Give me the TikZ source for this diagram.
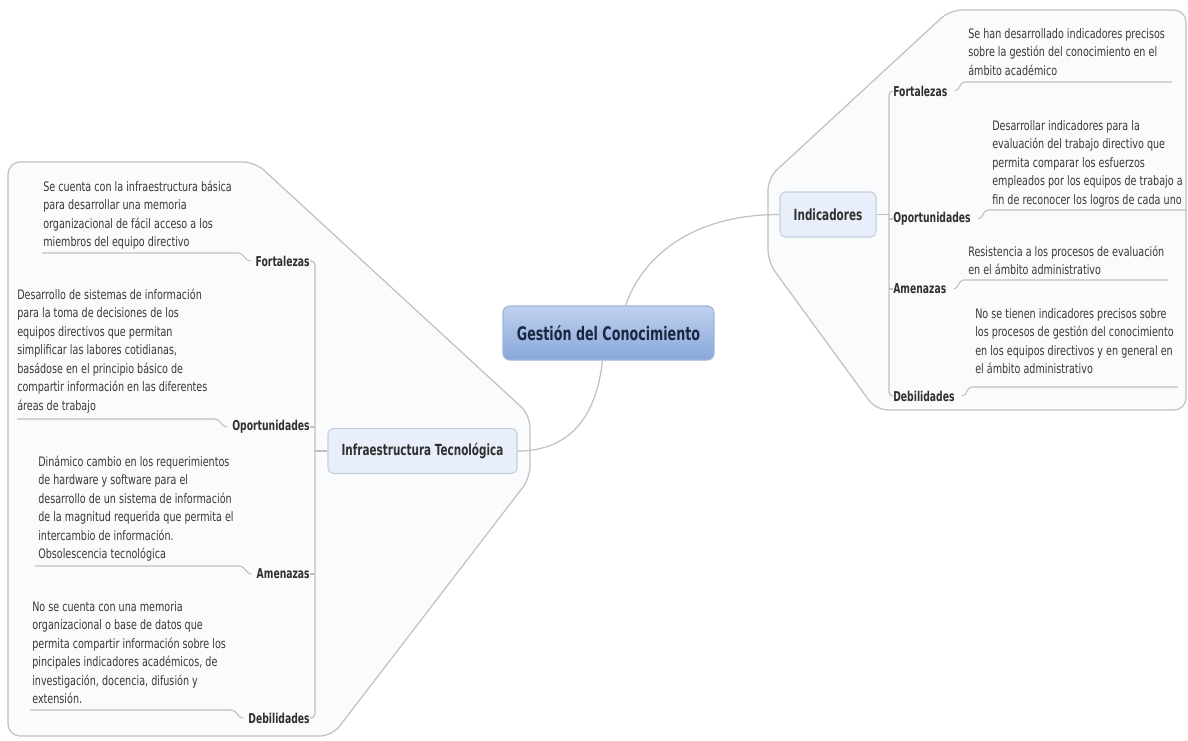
\documentclass[tikz,border=0pt]{standalone}
\usepackage{fontspec}
\setmainfont{DejaVu Sans}[FakeStretch=0.735]
\newfontfamily\boldf{DejaVu Sans}[FakeStretch=0.68]
\usetikzlibrary{calc}
\definecolor{txt}{HTML}{383838}
\definecolor{lbltxt}{HTML}{303030}
\definecolor{grpline}{HTML}{C0C0C0}
\definecolor{grpfill}{HTML}{FAFBFD}
\definecolor{connc}{HTML}{C0C0C0}
\definecolor{boxline}{HTML}{C5CFE1}
\definecolor{boxfill}{HTML}{E9EFFA}
\definecolor{gctop}{HTML}{BFD1EE}
\definecolor{gcbot}{HTML}{88A7DB}
\definecolor{gcline}{HTML}{9FB4DA}
\definecolor{gctxt}{HTML}{1C2740}
\begin{document}
\begin{tikzpicture}[x=0.75pt,y=-0.75pt,
  grp/.style={draw=grpline, fill=grpfill, line width=0.9pt, rounded corners=9pt},
  conn/.style={draw=connc, line width=0.9pt},
  uline/.style={draw=connc, line width=0.8pt},
  body/.style={anchor=north west, inner sep=0pt, align=left, text=txt,
    font=\fontsize{9.8}{13.9}\selectfont},
  lbl/.style={inner sep=0pt, text=lbltxt, font=\boldf\bfseries\fontsize{10.2}{11}\selectfont},
  topicbox/.style={draw=boxline, fill=boxfill, rounded corners=4pt, line width=0.8pt,
    text=lbltxt, font=\boldf\bfseries\fontsize{11.5}{12}\selectfont,
    minimum height=33.75pt, inner sep=2pt},
  centralbox/.style={draw=gcline, top color=gctop, bottom color=gcbot, rounded corners=5pt,
    line width=0.8pt, text=gctxt, font=\boldf\bfseries\fontsize{14}{15}\selectfont,
    minimum width=158.25pt, minimum height=40.5pt}
]
\useasboundingbox (0,0) rectangle (1188,740);
\fill[white] (0,0) rectangle (1188,740);

% group outlines
\path[grp] (8,162) -- (255,162) -- (530,415) -- (530,478) -- (332,736) -- (8,736) -- cycle;
\path[grp] (950,10) -- (1186,10) -- (1186,410) -- (876,410) -- (768,262) -- (768,178) -- cycle;

% main nodes
\node[centralbox] (gc) at (608.5,333) {Gestión del Conocimiento};
\node[topicbox, minimum width=141.75pt] (infra) at (422.5,451) {Infraestructura Tecnológica};
\node[topicbox, minimum width=72pt] (ind) at (828,214.5) {Indicadores};

% main connectors
\draw[conn] ($(gc.south)+(-6,0)$) .. controls (597,410) and (575,451) .. (infra.east);
\draw[conn] ($(gc.north)+(17,0)$) .. controls (642,258) and (690,214.5) .. (ind.west);

% ---------- left branch ----------
\node[lbl, anchor=east] (lF) at (310,261) {Fortalezas};
\node[lbl, anchor=east] (lO) at (310,427) {Oportunidades};
\node[lbl, anchor=east] (lA) at (310,574) {Amenazas};
\node[lbl, anchor=east] (lD) at (310,718) {Debilidades};

\draw[conn, rounded corners=3pt] (lF.east) -- ++(5,0) |- (lD.east);
\draw[conn] (lO.east) -- ++(5,0);
\draw[conn] (lA.east) -- ++(5,0);
\draw[conn] (infra.west) -- ++(-13,0);

\node[body] (tL1) at (43,178) {\strut Se cuenta con la infraestructura básica\\para desarrollar una memoria\\organizacional de fácil acceso a los\\miembros del equipo directivo};
\node[body] (tL2) at (17,286) {\strut Desarrollo de sistemas de información\\para la toma de decisiones de los\\equipos directivos que permitan\\simplificar las labores cotidianas,\\basádose en el principio básico de\\compartir información en las diferentes\\áreas de trabajo};
\node[body] (tL3) at (38,453) {\strut Dinámico cambio en los requerimientos\\de hardware y software para el\\desarrollo de un sistema de información\\de la magnitud requerida que permita el\\intercambio de información.\\Obsolescencia tecnológica};
\node[body] (tL4) at (32,598) {\strut No se cuenta con una memoria\\organizacional o base de datos que\\permita compartir información sobre los\\pincipales indicadores académicos, de\\investigación, docencia, difusión y\\extensión.};

\coordinate (uL1) at (42,253);
\coordinate (uL2) at (17,419);
\coordinate (uL3) at (35,566);
\coordinate (uL4) at (30,710);
\draw[uline] (uL1) -- ($(lF.west)+(-17,-8)$) to[out=0,in=180] ($(lF.west)+(-5,0)$);
\draw[uline] (uL2) -- ($(lO.west)+(-17,-8)$) to[out=0,in=180] ($(lO.west)+(-5,0)$);
\draw[uline] (uL3) -- ($(lA.west)+(-17,-8)$) to[out=0,in=180] ($(lA.west)+(-5,0)$);
\draw[uline] (uL4) -- ($(lD.west)+(-17,-8)$) to[out=0,in=180] ($(lD.west)+(-5,0)$);

% ---------- right branch ----------
\node[lbl, anchor=west] (rF) at (893,91) {Fortalezas};
\node[lbl, anchor=west] (rO) at (893,219) {Oportunidades};
\node[lbl, anchor=west] (rA) at (893,289) {Amenazas};
\node[lbl, anchor=west] (rD) at (893,396) {Debilidades};

\draw[conn, rounded corners=3pt] (rF.west) -- ++(-4,0) |- (rD.west);
\draw[conn] (rO.west) -- ++(-4,0);
\draw[conn] (rA.west) -- ++(-4,0);
\draw[conn] (ind.east) -- ++(13,0);

\node[body] (tR1) at (968,25) {\strut Se han desarrollado indicadores precisos\\sobre la gestión del conocimiento en el\\ámbito académico};
\node[body] (tR2) at (992,117) {\strut Desarrollar indicadores para la\\evaluación del trabajo directivo que\\permita comparar los esfuerzos\\empleados por los equipos de trabajo a\\fin de reconocer los logros de cada uno};
\node[body] (tR3) at (968,243) {\strut Resistencia a los procesos de evaluación\\en el ámbito administrativo};
\node[body] (tR4) at (975,305) {\strut No se tienen indicadores precisos sobre\\los procesos de gestión del conocimiento\\en los equipos directivos y en general en\\el ámbito administrativo};

\coordinate (uR1) at (1172,82);
\coordinate (uR2) at (1186,210);
\coordinate (uR3) at (1168,280);
\coordinate (uR4) at (1178,387);
\draw[uline] ($(rF.east)+(7,0)$) to[out=0,in=180] ($(rF.east)+(17,-9)$) -- (uR1);
\draw[uline] ($(rO.east)+(7,0)$) to[out=0,in=180] ($(rO.east)+(17,-9)$) -- (uR2);
\draw[uline] ($(rA.east)+(7,0)$) to[out=0,in=180] ($(rA.east)+(17,-9)$) -- (uR3);
\draw[uline] ($(rD.east)+(7,0)$) to[out=0,in=180] ($(rD.east)+(17,-9)$) -- (uR4);
\end{tikzpicture}
\end{document}
